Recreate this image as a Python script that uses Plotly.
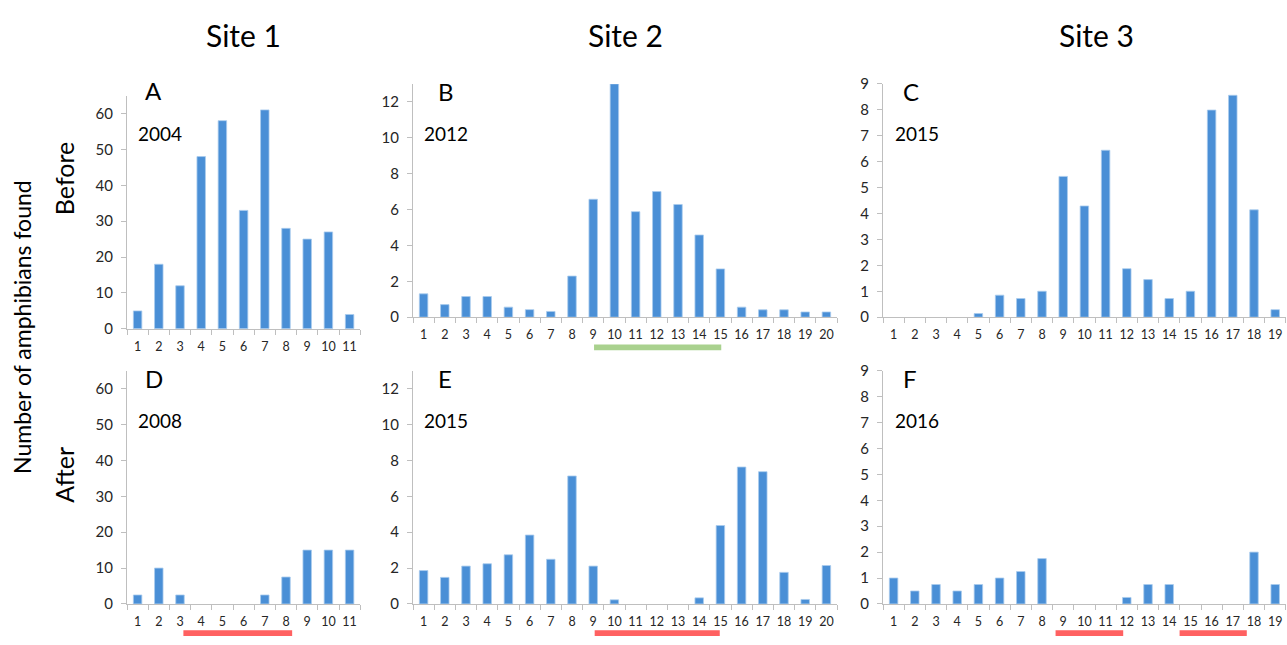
import plotly.graph_objects as go

# ---------------- data ----------------
site1_stations = list(range(1, 12))
site2_stations = list(range(1, 21))
site3_stations = list(range(1, 20))

site1_before_2004 = [5, 18, 12, 48, 58, 33, 61, 28, 25, 27, 4]
site1_after_2008 = [2.5, 10, 2.5, 0, 0, 0, 2.5, 7.5, 15, 15, 15]
site2_before_2012 = [1.3, 0.7, 1.15, 1.15, 0.56, 0.42, 0.32, 2.29, 6.57, 13.0,
                     5.88, 7.0, 6.28, 4.58, 2.69, 0.56, 0.41, 0.41, 0.29, 0.29]
site2_after_2015 = [1.86, 1.48, 2.11, 2.24, 2.74, 3.84, 2.49, 7.13, 2.11, 0.23,
                    0, 0, 0, 0.34, 4.37, 7.63, 7.37, 1.76, 0.25, 2.14]
site3_before_2015 = [0, 0, 0, 0, 0.14, 0.85, 0.72, 1.0, 5.43, 4.29, 6.44, 1.87,
                     1.45, 0.72, 1.0, 7.99, 8.56, 4.14, 0.29]
site3_after_2016 = [1, 0.5, 0.75, 0.5, 0.75, 1, 1.25, 1.75, 0, 0, 0, 0.25,
                    0.75, 0.75, 0, 0, 0, 2.0, 0.75]

panel_letters = ["A", "B", "C", "D", "E", "F"]
panel_years = ["2004", "2012", "2015", "2008", "2015", "2016"]
site_titles = ["Site 1", "Site 2", "Site 3"]

# highlighted station ranges (station-number units)
green_ranges_site2_before = [(9.04, 15.04)]
red_ranges_site1_after = [(3.16, 8.29)]
red_ranges_site2_after = [(9.07, 14.97)]
red_ranges_site3_after = [(8.64, 11.83), (14.49, 17.66)]

# ---------------- layout helpers ----------------
W, H = 1287, 645
def px(x):
    return x / W
def py(y):
    return 1 - y / H

col_x = [(127, 360.2), (413, 837), (883, 1285.8)]
row_y = [[(88, 328), (76, 316), (76, 316)], [(371, 611), (371, 611), (371, 611)]]
y_ranges = [65, 13, 9]
y_dticks = [10, 2, 1]

stations = [site1_stations, site2_stations, site3_stations]
values = [[site1_before_2004, site2_before_2012, site3_before_2015],
          [site1_after_2008, site2_after_2015, site3_after_2016]]

BAR = "#4a8fd6"
EDGE = "#a9cbee"
AXC = "#bfbfbf"
TXT = "#262626"
FONT = "Lato"

fig = go.Figure()
layout = dict(width=W, height=H, margin=dict(l=0, r=0, t=0, b=0),
              paper_bgcolor="white", plot_bgcolor="white", showlegend=False,
              bargap=0.6, font=dict(family=FONT, color=TXT))

shapes = []
annotations = []
k = 0
for r in range(2):
    for c in range(3):
        k += 1
        xa = "x" if k == 1 else f"x{k}"
        ya = "y" if k == 1 else f"y{k}"
        st = stations[c]
        vals = values[r][c]
        fig.add_trace(go.Bar(
            x=st, y=vals, xaxis=xa, yaxis=ya,
            marker=dict(color=BAR,
                        line=dict(color=[EDGE if v > 0 else "rgba(0,0,0,0)" for v in vals],
                                  width=0.8)),
        ))
        x0, x1 = col_x[c]
        yt, yb = row_y[r][c]
        n = len(st)
        layout["xaxis" if k == 1 else f"xaxis{k}"] = dict(
            domain=[px(x0), px(x1)], anchor=ya, range=[0.5, n + 0.5],
            tickvals=st, ticktext=[str(s) for s in st], ticks="",
            tickfont=dict(size=12.5, family=FONT, color=TXT),
            showline=True, linecolor=AXC, linewidth=1, showgrid=False, zeroline=False,
            minor=dict(tickvals=[s - 0.5 for s in st] + [n + 0.5], ticks="outside",
                       ticklen=5, tickcolor=AXC, tickwidth=1, showgrid=False),
            ticklabelstandoff=6, fixedrange=True,
        )
        layout["yaxis" if k == 1 else f"yaxis{k}"] = dict(
            domain=[py(yb), py(yt)], anchor=xa, range=[0, y_ranges[c]],
            dtick=y_dticks[c], tick0=0, ticks="outside", ticklen=5,
            tickcolor=AXC, tickwidth=1,
            tickfont=dict(size=15, family=FONT, color=TXT),
            showline=True, linecolor=AXC, linewidth=1, showgrid=False, zeroline=False,
            ticklabelstandoff=5, fixedrange=True,
        )
        # panel letter and year
        annotations.append(dict(text=panel_letters[k - 1], xref="paper", yref="paper",
                                x=px(x0 + (16 if c < 2 else 18) + (7 if c == 1 else 0)),
                                y=py(yt + (-5 if r == 0 and c == 0 else 8)),
                                xanchor="left", yanchor="middle", showarrow=False,
                                font=dict(size=24, family=FONT, color="black")))
        annotations.append(dict(text=panel_years[k - 1], xref="paper", yref="paper",
                                x=px(x0 + (9 if c < 2 else 10)),
                                y=py(yt + (39 if r == 0 and c == 0 else 51)),
                                xanchor="left", yanchor="middle", showarrow=False,
                                font=dict(size=19, family=FONT, color="black")))

def add_ranges(ranges, xa, color, ycenter):
    for a, b in ranges:
        shapes.append(dict(type="rect", xref=xa, yref="paper", x0=a, x1=b,
                           y0=py(ycenter + 3), y1=py(ycenter - 3),
                           fillcolor=color, line=dict(width=0), layer="above"))

add_ranges(green_ranges_site2_before, "x2", "#a9d18e", 347)
add_ranges(red_ranges_site1_after, "x4", "#ff6161", 641)
add_ranges(red_ranges_site2_after, "x5", "#ff6161", 641)
add_ranges(red_ranges_site3_after, "x6", "#ff6161", 641)

# site titles
for c in range(3):
    x0, x1 = col_x[c]
    annotations.append(dict(text=site_titles[c], xref="paper", yref="paper",
                            x=px((x0 + x1) / 2 if c < 2 else 1096), y=py(26),
                            xanchor="center", yanchor="middle", showarrow=False,
                            font=dict(size=30, family=FONT, color="black")))

# row labels and y title
annotations.append(dict(text="Before", xref="paper", yref="paper", x=px(64), y=py(174),
                        textangle=-90, showarrow=False, xanchor="center", yanchor="middle",
                        font=dict(size=25, family=FONT, color="black")))
annotations.append(dict(text="After", xref="paper", yref="paper", x=px(64), y=py(478),
                        textangle=-90, showarrow=False, xanchor="center", yanchor="middle",
                        font=dict(size=25, family=FONT, color="black")))
annotations.append(dict(text="Number of amphibians found", xref="paper", yref="paper",
                        x=px(22), y=py(326), textangle=-90, showarrow=False,
                        xanchor="center", yanchor="middle",
                        font=dict(size=23, family=FONT, color="black")))

layout["shapes"] = shapes
layout["annotations"] = annotations
fig.update_layout(**layout)
fig.write_html("out.html", config={"displayModeBar": False},
               post_script="document.body.style.margin='0';document.body.style.overflow='hidden';")
